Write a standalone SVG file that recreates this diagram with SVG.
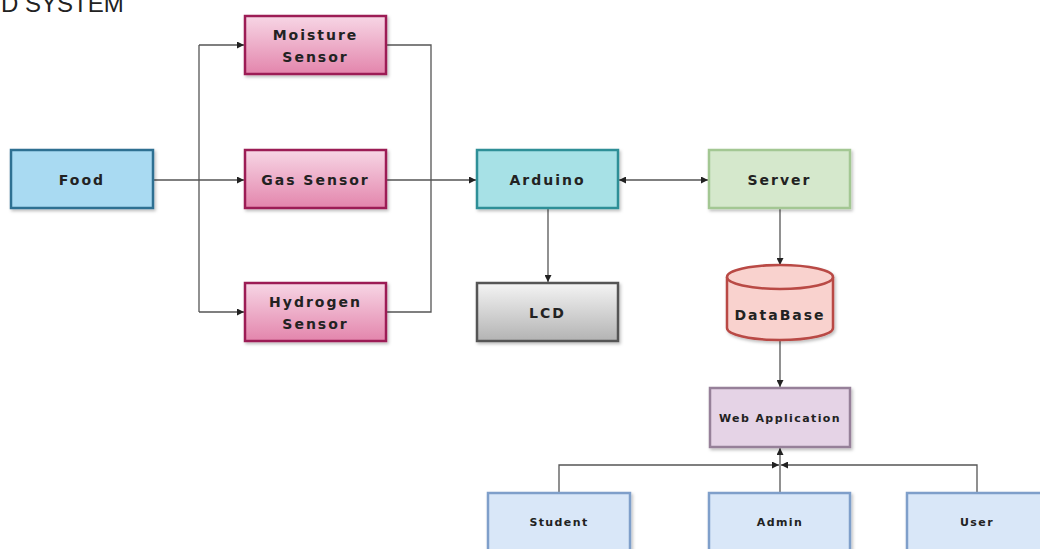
<svg xmlns="http://www.w3.org/2000/svg" width="1040" height="549" viewBox="0 0 1040 549">
<defs>
<linearGradient id="pink" x1="0" y1="0" x2="0" y2="1">
<stop offset="0" stop-color="#f7d6e5"/>
<stop offset="1" stop-color="#e385ac"/>
</linearGradient>
<linearGradient id="gray" x1="0" y1="0" x2="0" y2="1">
<stop offset="0" stop-color="#f4f4f4"/>
<stop offset="1" stop-color="#b3b3b3"/>
</linearGradient>
<filter id="sh" x="-10%" y="-10%" width="125%" height="135%">
<feDropShadow dx="1.5" dy="2" stdDeviation="1.5" flood-color="#000" flood-opacity="0.25"/>
</filter>
<marker id="ah" viewBox="0 0 8 8" refX="8" refY="4" markerWidth="7" markerHeight="7" markerUnits="userSpaceOnUse" orient="auto-start-reverse">
<path d="M0,0 L8,4 L0,8 Z" fill="#222"/>
</marker>
</defs>
<style>
.t{font-family:"DejaVu Sans","Liberation Sans",sans-serif;font-weight:bold;font-size:14px;letter-spacing:2px;fill:#222;text-anchor:middle;dominant-baseline:central}
.s{font-size:11px;letter-spacing:1.4px}
.c{fill:none;stroke:#555;stroke-width:1.3}
.a{marker-end:url(#ah)}
.b{stroke-width:2.5;filter:url(#sh)}
.food{fill:#a9daf2;stroke:#2e6f92}
.sens{fill:url(#pink);stroke:#9c1f55}
.ard{fill:#a7e1e6;stroke:#2f8f97}
.srv{fill:#d5e8cc;stroke:#a3c793}
.lcd{fill:url(#gray);stroke:#555}
.db{fill:#f9d2ce;stroke:#b94a45}
.web{fill:#e5d3e6;stroke:#968099}
.usr{fill:#d9e7f8;stroke:#7f9fca}
.title{font-family:"Liberation Sans",Arial,sans-serif;font-size:24px;fill:#222}
</style>
<rect width="1040" height="549" fill="#fff"/>
<text class="title" x="1" y="12">D SYSTEM</text>
<g id="connectors">
<path class="c a" d="M153,180 H244"/>
<path class="c" d="M199,45 V312"/>
<path class="c a" d="M199,45 H244"/>
<path class="c a" d="M199,312 H244"/>
<path class="c" d="M386,45 H431 V312 H386"/>
<path class="c a" d="M386,180 H476"/>
<path class="c a" d="M619,180 H708" style="marker-start:url(#ah)"/>
<path class="c a" d="M548,209 V282"/>
<path class="c a" d="M780,209 V265"/>
<path class="c a" d="M780,341 V387"/>
<path class="c a" d="M780,493 V448"/>
<path class="c a" d="M559,493 V465 H779"/>
<path class="c a" d="M977,493 V465 H781"/>
</g>
<g id="food"><rect class="b food" x="11" y="150" width="142" height="58"/><text class="t" x="82" y="180">Food</text></g>
<g id="moisture"><rect class="b sens" x="245" y="16" width="141" height="58"/><text class="t" x="315.5" y="35">Moisture</text><text class="t" x="315.5" y="57">Sensor</text></g>
<g id="gas"><rect class="b sens" x="245" y="150" width="141" height="58"/><text class="t" x="315.5" y="180">Gas Sensor</text></g>
<g id="hydrogen"><rect class="b sens" x="245" y="283" width="141" height="58"/><text class="t" x="315.5" y="302">Hydrogen</text><text class="t" x="315.5" y="324">Sensor</text></g>
<g id="arduino"><rect class="b ard" x="477" y="150" width="141" height="58"/><text class="t" x="547.5" y="180">Arduino</text></g>
<g id="server"><rect class="b srv" x="709" y="150" width="141" height="58"/><text class="t" x="779.5" y="180">Server</text></g>
<g id="lcd"><rect class="b lcd" x="477" y="283" width="141" height="58"/><text class="t" x="547.5" y="313">LCD</text></g>
<g id="database"><path class="b db" d="M727,277 A53,12 0 0 1 833,277 V328 A53,12 0 0 1 727,328 Z"/><path class="db" stroke-width="2.5" fill="none" d="M727,277 A53,12 0 0 0 833,277"/><text class="t" x="780" y="315">DataBase</text></g>
<g id="webapp"><rect class="b web" x="710" y="388" width="140" height="59"/><text class="t s" x="780" y="418">Web Application</text></g>
<g id="student"><rect class="b usr" x="488" y="493" width="142" height="60"/><text class="t s" x="559" y="522">Student</text></g>
<g id="admin"><rect class="b usr" x="709" y="493" width="141" height="60"/><text class="t s" x="780" y="522">Admin</text></g>
<g id="user"><rect class="b usr" x="907" y="493" width="142" height="60"/><text class="t s" x="977" y="522">User</text></g>
</svg>
